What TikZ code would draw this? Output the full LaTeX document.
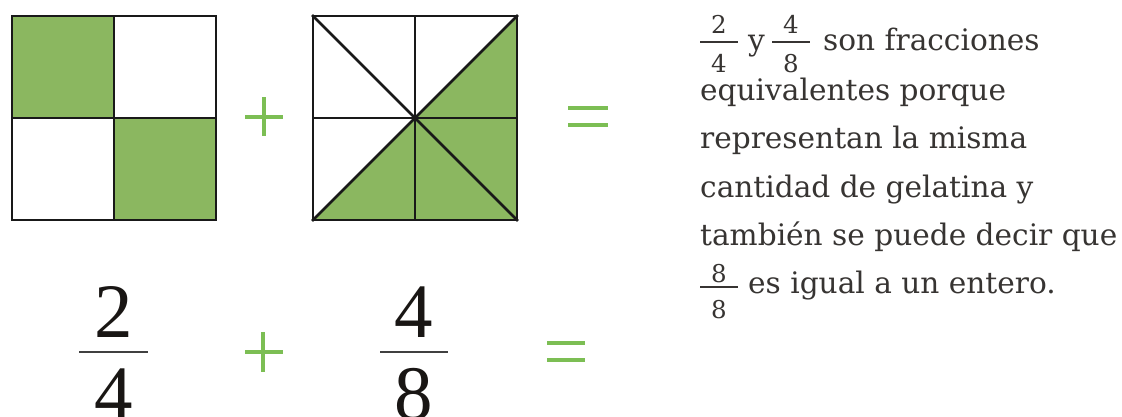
\documentclass[tikz,border=0pt]{standalone}
\usepackage{fontspec}
\newfontfamily\txtfont{DejaVu Serif}
\newfontfamily\bigfont{Liberation Serif}
\definecolor{gfill}{RGB}{139,183,96}
\definecolor{gsign}{RGB}{124,190,84}
\definecolor{txtcol}{RGB}{55,52,50}
\definecolor{bigcol}{RGB}{25,22,20}
\tikzset{
  sqline/.style={line width=2.6pt, line cap=rect, line join=miter, black!90},
  greenfill/.style={fill=gfill},
  signbar/.style={line width=4pt, gsign},
  bodytext/.style={anchor=base west, inner sep=0pt, font=\txtfont\fontsize{29.6}{30}\selectfont, text=txtcol},
  smalldigit/.style={anchor=base, inner sep=0pt, font=\txtfont\fontsize{24.5}{25}\selectfont, text=txtcol},
  smallbar/.style={line width=1.6pt, txtcol},
  bigdigit/.style={anchor=base, inner sep=0pt, font=\bigfont\fontsize{77}{77}\selectfont, text=bigcol},
  bigbar/.style={line width=2.6pt, black!75},
}
\begin{document}
\begin{tikzpicture}[x=1pt,y=-1pt]
\useasboundingbox[fill=white] (0,0) rectangle (1122,416);
% first square (2/4)
\fill[greenfill] (12,16) rectangle (114,118);
\fill[greenfill] (114,118) rectangle (216,220);
\draw[sqline] (12,16) rectangle (216,220);
\draw[sqline] (114,16) -- (114,220);
\draw[sqline] (12,118) -- (216,118);
% plus (top)
\draw[signbar] (245,117) -- (283,117);
\draw[signbar] (264,97) -- (264,136);
% second square (4/8)
\fill[greenfill] (313,220) -- (517,16) -- (517,220) -- cycle;
\draw[sqline] (313,16) rectangle (517,220);
\draw[sqline] (415,16) -- (415,220);
\draw[sqline] (313,118) -- (517,118);
\draw[sqline] (313,16) -- (517,220);
\draw[sqline] (313,220) -- (517,16);
% equals (top)
\draw[signbar] (568,108) -- (608,108);
\draw[signbar] (568,125) -- (608,125);
% bottom fractions
\node[bigdigit] (n1) at (113.5,337) {2};
\draw[bigbar] (79,352) -- (148,352);
\node[bigdigit] (d1) at (113.5,419) {4};
\draw[signbar] (245,352) -- (283,352);
\draw[signbar] (263,332) -- (263,372);
\node[bigdigit] (n2) at (414,337) {4};
\draw[bigbar] (380,352) -- (448,352);
\node[bigdigit] (d2) at (414,419) {8};
\draw[signbar] (547,343) -- (585,343);
\draw[signbar] (547,360) -- (585,360);
% explanatory text
\node[smalldigit] (f1n) at (719,33) {2};
\draw[smallbar] (700,42) -- (738,42);
\node[smalldigit] (f1d) at (719,72) {4};
\node[bodytext] (y) at (748,50) {y};
\node[smalldigit] (f2n) at (791,33) {4};
\draw[smallbar] (772,42) -- (810,42);
\node[smalldigit] (f2d) at (791,72) {8};
\node[bodytext] (l1) at (823,50) {son fracciones};
\node[bodytext] (l2) at (700,100) {equivalentes porque};
\node[bodytext] (l3) at (700,148) {representan la misma};
\node[bodytext] (l4) at (700,197) {cantidad de gelatina y};
\node[bodytext] (l5) at (700,245) {también se puede decir que};
\node[smalldigit] (f3n) at (719,282) {8};
\draw[smallbar] (700,287) -- (738,287);
\node[smalldigit] (f3d) at (719,318) {8};
\node[bodytext] (l6) at (748,293) {es igual a un entero.};
\end{tikzpicture}
\end{document}
